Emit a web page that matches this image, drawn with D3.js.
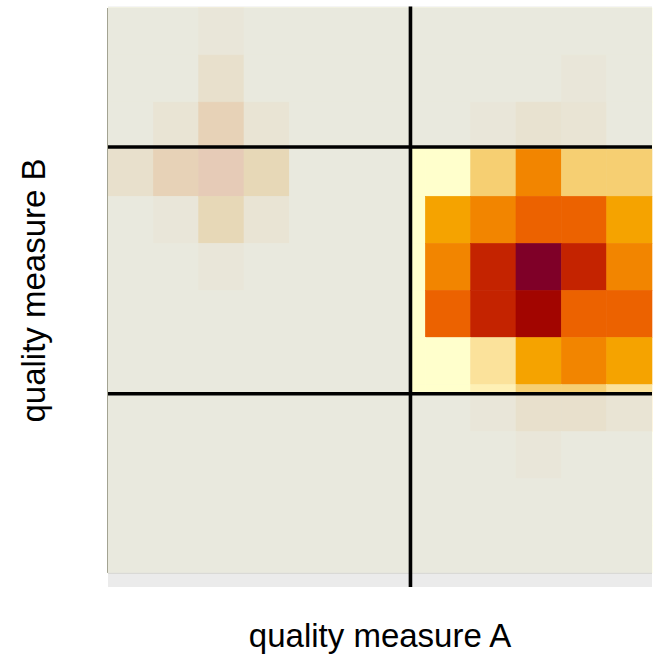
<!DOCTYPE html>
<html>
<head>
<meta charset="utf-8">
<script src="https://cdn.jsdelivr.net/npm/d3@7"></script>
<style>
  body { margin: 0; background: #fff; }
  text { font-family: "Liberation Sans", Arial, Helvetica, sans-serif; fill: #000; }
</style>
</head>
<body>
<div id="chart"></div>
<script>
// density levels per bin, top row = highest quality measure B
const densityLevels = [
    [0, 0, 1, 0, 0, 0, 0, 0, 0, 0, 0, 0],
    [0, 0, 3, 0, 0, 0, 0, 0, 0, 0, 1, 0],
    [0, 2, 5, 2, 0, 0, 0, 0, 1, 2.5, 2, 0],
    [3, 5, 6, 4, 0, 0, 0, 0, 3, 5, 3, 3],
    [0, 1, 4, 2, 0, 0, 0, 4, 5, 6, 6, 4],
    [0, 0, 1, 0, 0, 0, 0, 5, 7, 9, 7, 5],
    [0, 0, 0, 0, 0, 0, 0, 6, 7, 8, 6, 6],
    [0, 0, 0, 0, 0, 0, 0, 0, 2, 4, 5, 4],
    [0, 0, 0, 0, 0, 0, 0, 0, 1, 3, 3, 2],
    [0, 0, 0, 0, 0, 0, 0, 0, 0, 1, 0, 0],
    [0, 0, 0, 0, 0, 0, 0, 0, 0, 0, 0, 0],
    [0, 0, 0, 0, 0, 0, 0, 0, 0, 0, 0, 0]
];

// colour ramp, one colour per level
const palette = ["#ffffcc", "#fef0b5", "#fbe29b", "#f6cf72", "#f5a300",
                 "#f28500", "#ec6200", "#c42300", "#a20500", "#7f0028"];

// selection thresholds (in quality units 0..1)
const cutA = 0.556;
const cutB = [0.317, 0.754];

const axisTitles = ["quality measure A", "quality measure B"];

const W = 658, H = 654;
const nRows = densityLevels.length, nCols = densityLevels[0].length;

const x = d3.scaleLinear().domain([0, 1]).range([108, 652]);
const y = d3.scaleLinear().domain([-0.025, 1]).range([587, 8]);
const colour = d3.scaleLinear().domain(d3.range(palette.length)).range(palette);

const svg = d3.select("#chart").append("svg")
    .attr("width", W)
    .attr("height", H);

// panel background
svg.append("rect")
    .attr("x", x(0)).attr("y", y(1) - 1.5)
    .attr("width", x(1) - x(0)).attr("height", y(-0.025) - y(1) + 1.5)
    .attr("fill", "#ebebeb");

const cells = [];
densityLevels.forEach((row, r) => row.forEach((v, c) => {
    cells.push({ a0: c / nCols, a1: (c + 1) / nCols, b1: 1 - r / nRows, b0: 1 - (r + 1) / nRows, v: v });
}));

svg.append("g").selectAll("rect")
    .data(cells)
    .enter()
    .append("rect")
    .attr("x", d => x(d.a0))
    .attr("y", d => y(d.b1))
    .attr("width", d => x(d.a1) - x(d.a0))
    .attr("height", d => y(d.b0) - y(d.b1))
    .attr("fill", d => colour(d.v))
    .attr("stroke", d => colour(d.v))
    .attr("stroke-width", 0.6);

// fade everything outside the selected box
const outer = `M${x(0)},${y(1)}H${x(1)}V${y(0)}H${x(0)}Z`;
const inner = `M${x(cutA)},${y(cutB[1])}H${x(1)}V${y(cutB[0])}H${x(cutA)}Z`;
svg.append("path")
    .attr("d", outer + inner)
    .attr("fill-rule", "evenodd")
    .attr("fill", "#e4e4e2")
    .attr("fill-opacity", 0.81);

// thin edges of the raster
svg.append("line")
    .attr("x1", x(0) - 0.5).attr("x2", x(0) - 0.5)
    .attr("y1", y(1)).attr("y2", y(0))
    .attr("stroke", "#a3a392").attr("stroke-width", 1);
svg.append("line")
    .attr("x1", x(0)).attr("x2", x(1))
    .attr("y1", y(0) + 0.5).attr("y2", y(0) + 0.5)
    .attr("stroke", "#d6d6d4").attr("stroke-width", 1);

// threshold lines
svg.append("line")
    .attr("x1", x(cutA)).attr("x2", x(cutA))
    .attr("y1", y(1) - 1.5).attr("y2", y(-0.025))
    .attr("stroke", "#000").attr("stroke-width", 3.6);

svg.selectAll(".hline")
    .data(cutB)
    .enter()
    .append("line")
    .attr("class", "hline")
    .attr("x1", x(0)).attr("x2", x(1))
    .attr("y1", d => y(d)).attr("y2", d => y(d))
    .attr("stroke", "#000").attr("stroke-width", 3.6);

// axis titles
svg.append("text")
    .attr("x", (x(0) + x(1)) / 2)
    .attr("y", 647)
    .attr("text-anchor", "middle")
    .attr("font-size", 33)
    .text(axisTitles[0]);

svg.append("text")
    .attr("transform", `translate(45,${(y(1) + y(-0.025)) / 2 - 7}) rotate(-90)`)
    .attr("text-anchor", "middle")
    .attr("font-size", 33)
    .text(axisTitles[1]);
</script>
</body>
</html>
